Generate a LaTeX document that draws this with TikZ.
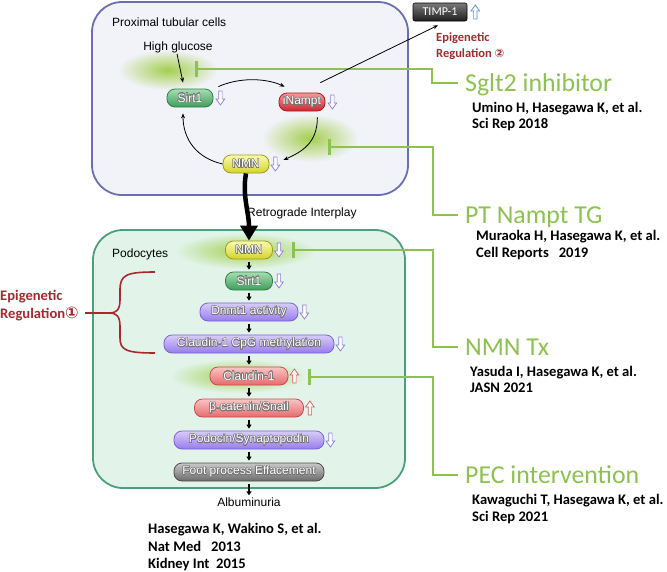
\documentclass[tikz,border=0pt]{standalone}
\usepackage{fontspec}
\setmainfont{Liberation Sans}
\newfontfamily\carl{Carlito}
\newfontfamily\dvs{DejaVu Sans}
\usepackage{contour}
\contourlength{0.45pt}
\usetikzlibrary{arrows.meta,fadings}
\definecolor{ptborder}{HTML}{6C6EB2}
\definecolor{ptin}{HTML}{F2F3F9}
\definecolor{ptmid}{HTML}{E6E8F4}
\definecolor{ptout}{HTML}{CDD0EA}
\definecolor{pdborder}{HTML}{4C9F7C}
\definecolor{pdin}{HTML}{E2F4EA}
\definecolor{pdmid}{HTML}{D6EEE1}
\definecolor{pdout}{HTML}{BFE4CF}
\definecolor{gline}{HTML}{8DC150}
\definecolor{glowc}{HTML}{9CCB3C}
\definecolor{epired}{HTML}{A8282E}
\definecolor{apurple}{HTML}{8C7BDC}
\definecolor{ared}{HTML}{E8545A}
\definecolor{ablue}{HTML}{4A8FD6}
\pgfdeclareradialshading{ptshade}{\pgfpoint{0bp}{0bp}}{color(0bp)=(ptin); color(38bp)=(ptin); color(48bp)=(ptmid); color(52bp)=(ptout); color(72bp)=(ptout)}
\pgfdeclareradialshading{pdshade}{\pgfpoint{0bp}{0bp}}{color(0bp)=(pdin); color(38bp)=(pdin); color(48bp)=(pdmid); color(52bp)=(pdout); color(72bp)=(pdout)}
\tikzfading[name=glowfade, inner color=transparent!10, outer color=transparent!100]
\newcommand\ct[1]{\contour{black!55}{#1}}
\begin{document}
\begin{tikzpicture}[x=1pt,y=-1pt,
  cbox/.style={rounded corners=8pt, draw, line width=0.8pt, minimum height=18pt, inner sep=0pt,
    font=\fontsize{12}{13}\selectfont, text=white},
  lbl/.style={inner sep=0pt, font=\fontsize{12}{14}\selectfont},
  cite/.style={inner sep=0pt, anchor=base west, font=\carl\bfseries\fontsize{14.6}{16}\selectfont},
  glab/.style={inner xsep=7pt, inner ysep=0pt, anchor=west, text height=16.5pt, text depth=0pt,
    text=gline, font=\carl\fontsize{25.8}{28}\selectfont},
  epi/.style={inner sep=0pt, anchor=base west, text=epired, font=\carl\bfseries\fontsize{14.6}{16}\selectfont},
  inh/.style={draw=gline, line width=2.6pt, {Bar[width=16pt]}-},
  thinarr/.style={line width=0.8pt, -{Stealth[length=5pt,width=4pt]}},
  chain/.style={line width=1.1pt, -{Triangle[length=4pt,width=5pt]}, shorten <=2.5pt, shorten >=2pt},
  glow/.style={fill=glowc, path fading=glowfade},
  pics/darr/.style={code={\draw[line width=0.7pt,fill=white,draw=#1] (-1.7,-7) -- (1.7,-7) -- (1.7,1) -- (4.3,1) -- (0,7) -- (-4.3,1) -- (-1.7,1) -- cycle;}},
  pics/uarr/.style={code={\draw[line width=0.7pt,fill=white,draw=#1] (-1.7,7) -- (1.7,7) -- (1.7,-1) -- (4.3,-1) -- (0,-7) -- (-4.3,-1) -- (-1.7,-1) -- cycle;}},
]
\definecolor{gtop}{HTML}{A6DDB2}\definecolor{gbot}{HTML}{3F9D5C}\definecolor{gdraw}{HTML}{2F7F48}
\definecolor{rtop}{HTML}{F49A9A}\definecolor{rbot}{HTML}{CC2630}\definecolor{rdraw}{HTML}{A31C24}
\definecolor{ktop}{HTML}{FBC4C4}\definecolor{kbot}{HTML}{E66A6E}\definecolor{kdraw}{HTML}{C9484E}
\definecolor{ytop}{HTML}{FAFAB0}\definecolor{ybot}{HTML}{D4D42A}\definecolor{ydraw}{HTML}{9D9D18}
\definecolor{ptop}{HTML}{D8CCFB}\definecolor{pbot}{HTML}{977CEA}\definecolor{pdraw}{HTML}{7B5FD6}
\definecolor{stop}{HTML}{C8C8C8}\definecolor{sbot}{HTML}{6B6B6B}\definecolor{sdraw}{HTML}{4A4A4A}
\definecolor{ttop}{HTML}{7A7A7A}\definecolor{tbot}{HTML}{1E1E1E}
\tikzset{
  grn/.style={cbox, draw=gdraw, top color=gtop, bottom color=gbot},
  rd/.style={cbox, draw=rdraw, top color=rtop, bottom color=rbot},
  pk/.style={cbox, draw=kdraw, top color=ktop, bottom color=kbot},
  yl/.style={cbox, draw=ydraw, top color=ytop, bottom color=ybot},
  pu/.style={cbox, draw=pdraw, top color=ptop, bottom color=pbot},
  gy/.style={cbox, draw=sdraw, top color=stop, bottom color=sbot},
  tb/.style={rounded corners=2pt, draw=black, line width=0.6pt, minimum height=18pt, minimum width=54pt,
    inner sep=0pt, top color=ttop, bottom color=tbot, text=white, font=\carl\fontsize{12}{13}\selectfont},
}
\useasboundingbox (0,0) rectangle (667,571);
% cells
\draw[draw=ptborder, line width=1.8pt, shading=ptshade, rounded corners=30pt]
  (92,2) rectangle (408,195);
\draw[draw=pdborder, line width=1.8pt, shading=pdshade, rounded corners=30pt]
  (93,230) rectangle (405,488);
% glows
\fill[glow] (168,70) ellipse [x radius=50, y radius=20];
\fill[glow] (310,138) ellipse [x radius=48, y radius=24];
\fill[glow] (245,251) ellipse [x radius=70, y radius=18];
\fill[glow] (238,376) ellipse [x radius=68, y radius=17];
% labels
\node[lbl, anchor=west] (ptc) at (112,22) {Proximal tubular cells};
\node[lbl] (hg) at (178,47) {High glucose};
\node[lbl, anchor=west] (pdc) at (112,254) {Podocytes};
\node[lbl, anchor=west] (rti) at (247,213) {Retrograde Interplay};
% inhibition lines
\coordinate (i1) at (195,69);
\coordinate (i2) at (328,147);
\coordinate (i3) at (292,250);
\coordinate (i4) at (308,377);
\node[glab] (sg) at (458,83) {Sglt2 inhibitor};
\node[glab] (ptg) at (458,215) {PT Nampt TG};
\node[glab] (nmt) at (458,347) {NMN Tx};
\node[glab] (pec) at (458,475) {PEC intervention};
\draw[inh] (i1) -- (432,69) |- (sg.west);
\draw[inh] (i2) -- (433,147) |- (ptg.west);
\draw[inh] (i3) -- (433,250) |- (nmt.west);
\draw[inh] (i4) -- (433,377) |- (pec.west);
% top cell nodes
\node[grn, minimum width=46pt] (s1) at (190,98) {\ct{Sirt1}};
\node[rd, minimum width=46pt] (nam) at (302,102) {\ct{iNampt}};
\node[yl, minimum width=46pt] (nmn1) at (246,164) {\ct{NMN}};
\pic at ([xshift=7pt]s1.east) {darr=apurple};
\pic at ([xshift=7pt]nam.east) {darr=apurple};
\pic at ([xshift=6pt]nmn1.east) {darr=apurple};
\draw[thinarr] ([xshift=-1pt,yshift=-1pt]hg.south) -- ([xshift=-7pt,yshift=6pt]s1.north);
\draw[thinarr] ([xshift=5pt,yshift=2pt]s1.north east) .. controls +(20,-9) and +(-20,-9) .. ([xshift=6pt,yshift=6pt]nam.north west);
\draw[thinarr] ([xshift=-8pt,yshift=-6pt]nam.south east) .. controls +(0,26) and +(18,-8) .. ([xshift=14pt,yshift=4pt]nmn1.east);
\draw[thinarr] (nmn1.west) .. controls +(-26,-6) and +(0,26) .. ([xshift=-7pt,yshift=-6pt]s1.south);
% TIMP-1
\node[tb] (timp) at (440,12) {TIMP-1};
\pic at ([xshift=8pt]timp.east) {uarr=ablue};
\coordinate (tst) at ([xshift=-5pt,yshift=10pt]nam.north east);
\draw[thinarr] (tst) -- ([xshift=-2pt,yshift=-4pt]timp.south);
\node[epi, font=\carl\bfseries\fontsize{12.5}{14}\selectfont] (e2a) at (436,41) {Epigenetic};
\node[epi, font=\carl\bfseries\fontsize{12.5}{14}\selectfont] (e2b) at (436,57) {Regulation {\dvs\fontsize{11.5}{12}\selectfont ②}};
% podocyte nodes
\node[yl, minimum width=47pt] (nmn2) at (249,250) {\ct{NMN}};
\node[grn, minimum width=47pt] (s2) at (249,281) {\ct{Sirt1}};
\node[pu, minimum width=98pt] (dn) at (249,312) {\ct{Dnmt1 activity}};
\node[pu, minimum width=170pt] (cpg) at (249,344) {\ct{Claudin-1 CpG methylation}};
\node[pk, minimum width=78pt] (cl) at (249,376) {\ct{Claudin-1}};
\node[pk, minimum width=109pt] (bc) at (249,408) {\ct{β-catenin/Snail}};
\node[pu, minimum width=150pt] (pod) at (249,440) {\ct{Podocin/Synaptopodin}};
\node[gy, minimum width=150pt] (fp) at (249,472) {\ct{Foot process Effacement}};
\node[lbl] (alb) at (249,502) {Albuminuria};
\pic at ([xshift=6pt]nmn2.east) {darr=apurple};
\pic at ([xshift=6pt]s2.east) {darr=apurple};
\pic at ([xshift=6pt]dn.east) {darr=apurple};
\pic at ([xshift=6pt]cpg.east) {darr=apurple};
\pic at ([xshift=6pt]cl.east) {uarr=ared};
\pic at ([xshift=6pt]bc.east) {uarr=ared};
\pic at ([xshift=6pt]pod.east) {darr=apurple};
\draw[chain] (nmn2) -- (s2);
\draw[chain] (s2) -- (dn);
\draw[chain] (dn) -- (cpg);
\draw[chain] (cpg) -- (cl);
\draw[chain] (cl) -- (bc);
\draw[chain] (bc) -- (pod);
\draw[chain] (pod) -- (fp);
\draw[chain] (fp) -- (alb);
% retrograde thick arrow
\draw[line width=4.5pt, -{Triangle[length=15pt,width=17pt]}] (nmn1.south) .. controls +(-4,22) and +(0,-28) .. (nmn2.north);
% epigenetic regulation 1
\node[epi] (e1a) at (0,300) {Epigenetic};
\node[epi] (e1b) at (0,318) {Regulation{\dvs\fontsize{16}{16}\selectfont ①}};
\draw[epired, line width=1.6pt] (155,272) .. controls (126,272) and (120,275) .. (120,290) -- (120,300)
  .. controls (120,310) and (116,313) .. (110,313) -- (85,313);
\draw[epired, line width=1.6pt] (110,313) .. controls (116,313) and (120,316) .. (120,326) -- (120,338)
  .. controls (120,350) and (126,353) .. (155,353);
% citations
\node[cite] (c1a) at (472,112) {Umino H, Hasegawa K, et al.};
\node[cite] (c1b) at (472,128) {Sci Rep 2018};
\node[cite] (c2a) at (476,240) {Muraoka H, Hasegawa K, et al.};
\node[cite] (c2b) at (476,257) {Cell Reports\ \ \ 2019};
\node[cite] (c3a) at (470,376) {Yasuda I, Hasegawa K, et al.};
\node[cite] (c3b) at (470,392) {JASN 2021};
\node[cite] (c4a) at (472,504) {Kawaguchi T, Hasegawa K, et al.};
\node[cite] (c4b) at (472,521) {Sci Rep 2021};
\node[cite] (c5a) at (148,533) {Hasegawa K, Wakino S, et al.};
\node[cite] (c5b) at (148,551) {Nat Med\ \ \ 2013};
\node[cite] (c5c) at (148,568) {Kidney Int\ \ 2015};
\end{tikzpicture}
\end{document}
